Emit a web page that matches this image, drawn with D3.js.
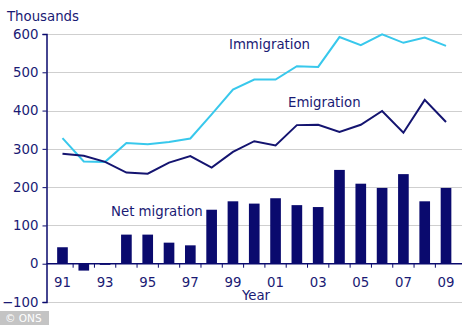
<!DOCTYPE html>
<html>
<head>
<meta charset="utf-8">
<script src="https://cdn.jsdelivr.net/npm/d3@7"></script>
<style>
  body { margin: 0; background: #fff; }
  text { font-family: "DejaVu Sans", Verdana, sans-serif; fill: #1a1a74; }
</style>
</head>
<body>
<div id="chart"></div>
<script>
const years = d3.range(1991, 2010);
const yearLabels = ['91', '93', '95', '97', '99', '01', '03', '05', '07', '09'];
const immigration = [328, 267, 266, 315, 312, 318, 327, 390, 455, 481, 481, 516, 514, 592, 571, 599, 577, 591, 569];
const emigration = [287, 282, 266, 238, 235, 264, 281, 251, 292, 320, 309, 362, 363, 344, 363, 399, 342, 428, 370];
const netMigration = [43, -18, -3, 76, 76, 55, 48, 141, 163, 157, 171, 153, 148, 245, 209, 198, 234, 163, 198];
const yTicks = [-100, 0, 100, 200, 300, 400, 500, 600];

const width = 468, height = 325;
const navy = '#0a0a6e';

const svg = d3.select('#chart').append('svg')
  .attr('width', width)
  .attr('height', height);

const x = d3.scaleBand().domain(years).range([46.5, 462]).padding(0.5);
const y = d3.scaleLinear().domain([-100, 600]).range([302, 34]);
const cx = d => x(d) + x.bandwidth() / 2;

// gridlines
svg.append('g').selectAll('line')
  .data(yTicks.filter(t => t !== 0))
  .enter().append('line')
  .attr('x1', 46.5).attr('x2', 462)
  .attr('y1', d => Math.round(y(d)) + 0.5).attr('y2', d => Math.round(y(d)) + 0.5)
  .attr('stroke', '#cfcfcf').attr('stroke-width', 1.2);

// bars
svg.append('g').selectAll('rect')
  .data(netMigration)
  .enter().append('rect')
  .attr('x', (d, i) => x(years[i]))
  .attr('width', x.bandwidth())
  .attr('y', d => y(Math.max(0, d)))
  .attr('height', d => Math.abs(y(d) - y(0)))
  .attr('fill', navy);

// lines
const line = d3.line().x((d, i) => cx(years[i])).y(d => y(d));
svg.append('path').datum(immigration)
  .attr('d', line).attr('fill', 'none')
  .attr('stroke', '#38c8ec').attr('stroke-width', 2);
svg.append('path').datum(emigration)
  .attr('d', line).attr('fill', 'none')
  .attr('stroke', '#141470').attr('stroke-width', 2);

// y axis
const yAxis = svg.append('g')
  .attr('transform', 'translate(46.5,0)')
  .call(d3.axisLeft(y).tickValues(yTicks).tickSize(4).tickPadding(4));
yAxis.select('.domain').attr('stroke', navy).attr('stroke-width', 1.5);
yAxis.selectAll('.tick line').attr('stroke', navy);
yAxis.selectAll('.tick text').style('font-size', '13.3px').attr('fill', '#1a1a74');

// x axis at zero, ticks between years
svg.append('line')
  .attr('x1', 46.5).attr('x2', 462)
  .attr('y1', y(0)).attr('y2', y(0))
  .attr('stroke', navy).attr('stroke-width', 1.5);
svg.append('g').selectAll('line')
  .data(years.slice(1))
  .enter().append('line')
  .attr('x1', d => cx(d) - x.step() / 2)
  .attr('x2', d => cx(d) - x.step() / 2)
  .attr('y1', y(0)).attr('y2', y(0) + 4)
  .attr('stroke', navy);

svg.append('g').selectAll('text')
  .data(yearLabels)
  .enter().append('text')
  .attr('x', (d, i) => cx(years[i * 2]))
  .attr('y', 287)
  .attr('text-anchor', 'middle')
  .style('font-size', '13.3px')
  .text(d => d);

svg.append('text').attr('x', 256).attr('y', 300)
  .attr('text-anchor', 'middle').style('font-size', '13.3px').text('Year');
svg.append('text').attr('x', 7).attr('y', 21)
  .style('font-size', '13.3px').text('Thousands');

// series labels
svg.append('text').attr('x', 229).attr('y', 49).style('font-size', '13.3px').text('Immigration');
svg.append('text').attr('x', 288).attr('y', 107).style('font-size', '13.3px').text('Emigration');
svg.append('text').attr('x', 111).attr('y', 216).style('font-size', '13.3px').text('Net migration');

// credit
svg.append('rect').attr('x', 0).attr('y', 311).attr('width', 49).attr('height', 14).attr('fill', '#c4c4c4');
svg.append('text').attr('x', 5).attr('y', 322).style('font-size', '10.5px')
  .style('fill', '#fff').text('© ONS');
</script>
</body>
</html>
